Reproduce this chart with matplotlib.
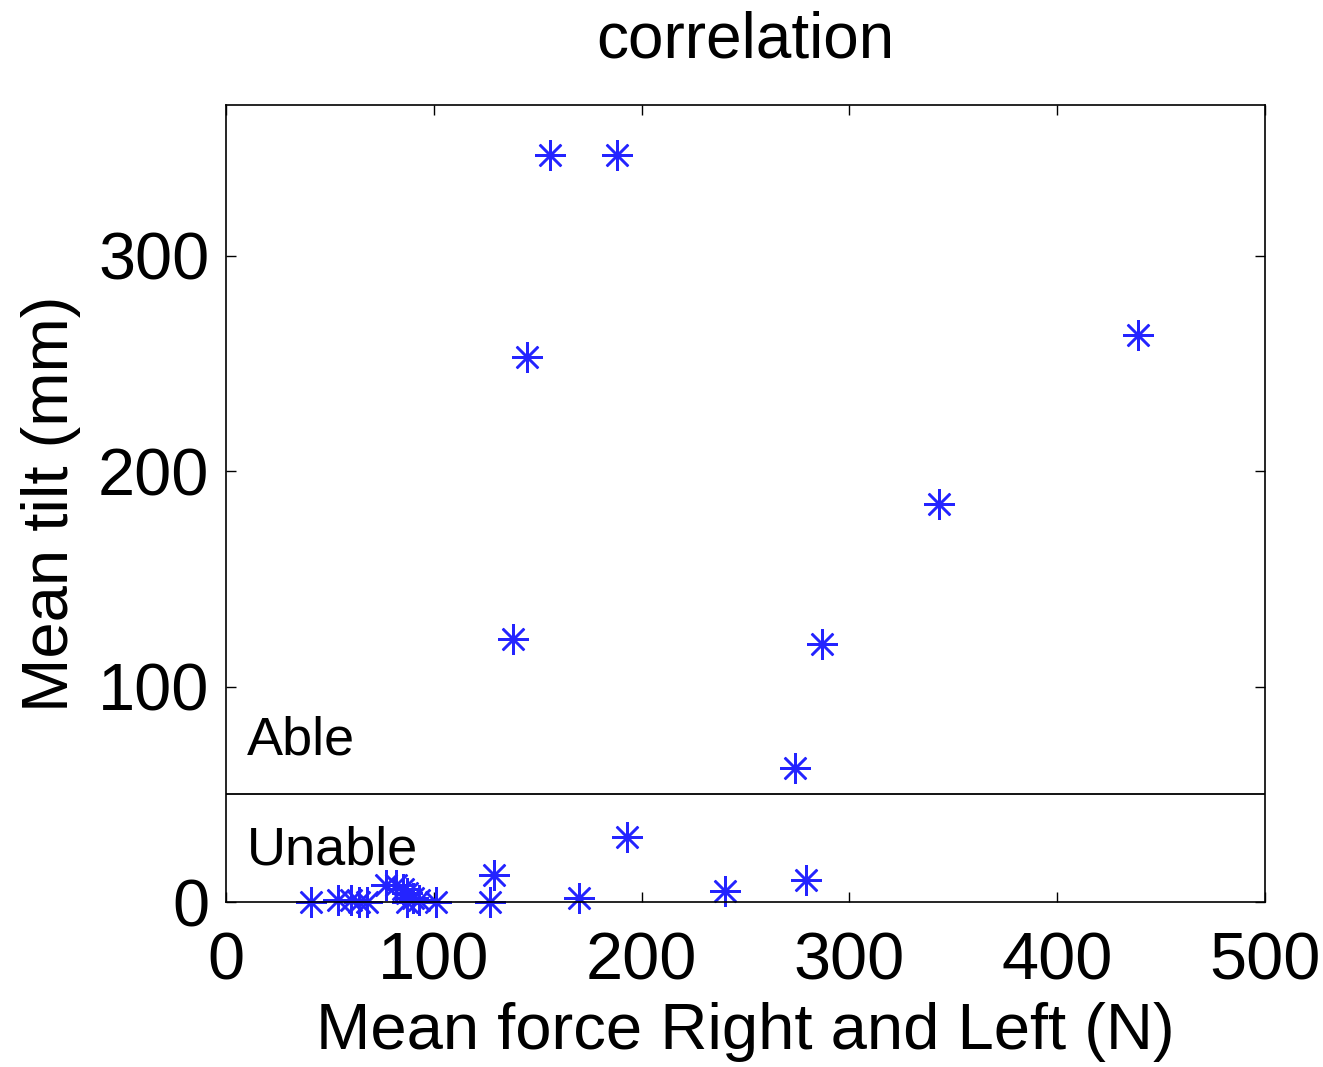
import matplotlib
matplotlib.use("Agg")
import matplotlib.pyplot as plt

plt.rcParams["font.family"] = ["Liberation Sans", "DejaVu Sans"]

# mean force (N) vs mean tilt (mm)
force = [156, 188, 145, 439, 343, 138, 287, 274,
         193, 129, 279, 240, 170, 127, 101, 93, 90, 87, 87, 85,
         82, 77, 68, 64, 60, 54, 41]
tilt = [347, 347, 253, 263, 185, 122, 120, 62,
        30, 12.5, 10, 5, 2, 0, 0, 1, 2, 4, 0, 6,
        8, 8, 0, 0, 1, 1, 0]
threshold = 50

fig = plt.figure(figsize=(13.23, 10.67), dpi=100)
ax = fig.add_axes([0.1708, 0.1546, 0.7854, 0.747])

ax.plot(force, tilt, linestyle="none", marker=(8, 2, 0), markersize=22,
        markeredgewidth=1.8, color="#2424ff", clip_on=False)
ax.axhline(threshold, color="black", linewidth=1.3)
ax.text(10, 75, "Able", fontsize=39, va="center", ha="left")
ax.text(10, 24, "Unable", fontsize=39, va="center", ha="left")

ax.set_xlim(0, 500)
ax.set_ylim(0, 370)
ax.set_xticks([0, 100, 200, 300, 400, 500])
ax.set_yticks([0, 100, 200, 300])
ax.tick_params(direction="in", length=7, width=1, labelsize=48,
               top=True, right=True, pad=12)
ax.tick_params(axis="x", pad=21)
for s in ax.spines.values():
    s.set_linewidth(1.2)

ax.set_xlabel("Mean force Right and Left (N)", fontsize=47, labelpad=6)
ax.set_ylabel("Mean tilt (mm)", fontsize=47, labelpad=12)
ax.set_title("correlation", fontsize=46, pad=34)

fig.savefig("out.png", dpi=100)
